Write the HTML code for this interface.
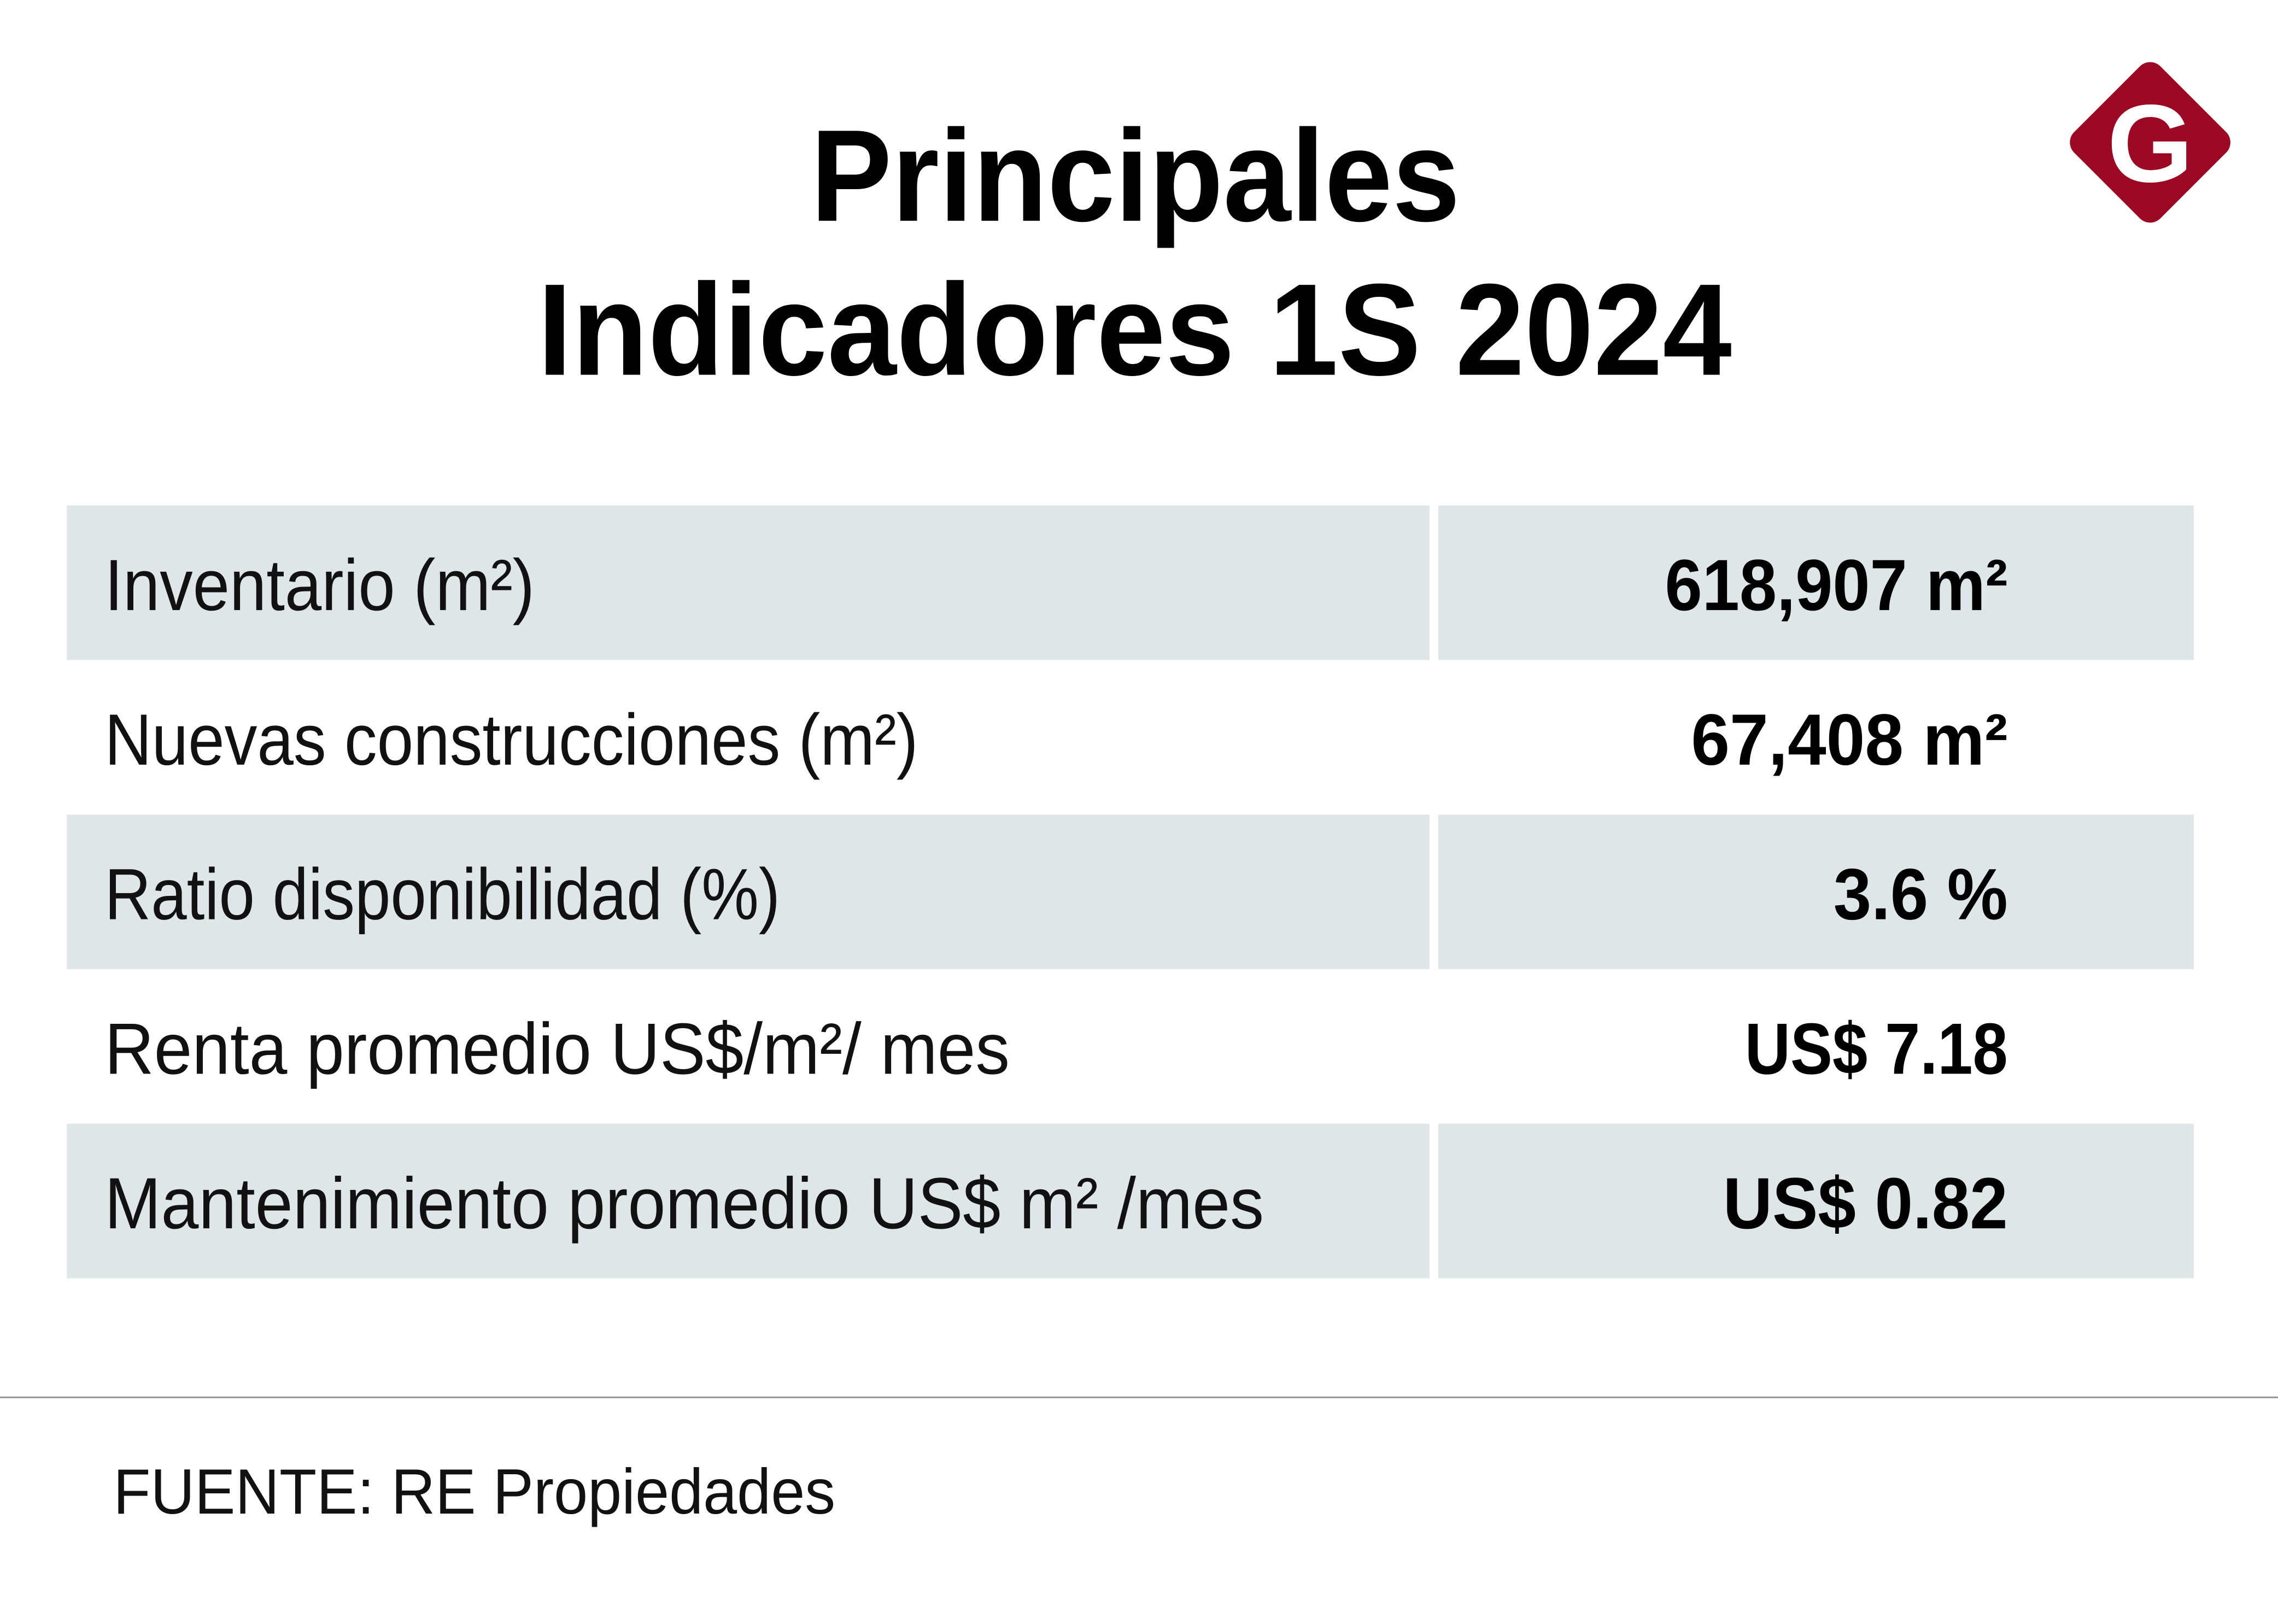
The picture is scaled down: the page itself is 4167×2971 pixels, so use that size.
<!DOCTYPE html>
<html><head><meta charset="utf-8">
<style>
html,body{margin:0;padding:0;background:#fff;}
svg{display:block;}
text{font-family:"Liberation Sans Narrow","Liberation Sans",sans-serif;}
</style></head>
<body>
<svg id="chart" width="4167" height="2971" viewBox="0 0 1568 1118" preserveAspectRatio="none" xmlns="http://www.w3.org/2000/svg">
  <rect x="0" y="0" width="1568" height="1118" fill="#ffffff"/>
  <text x="558" y="152" font-size="90" font-weight="bold" fill="#000" textLength="447" lengthAdjust="spacingAndGlyphs">Principales</text>
  <text x="370" y="258" font-size="90" font-weight="bold" fill="#000" textLength="822" lengthAdjust="spacingAndGlyphs">Indicadores 1S 2024</text>
  <g>
    <rect x="1438" y="56" width="84" height="84" rx="10" fill="#9b0a22" transform="rotate(45 1480 98)"/>
    <text x="1480" y="125" font-family="Liberation Serif, serif" font-size="76" font-weight="bold" fill="#fff" text-anchor="middle">G</text>
  </g>
  <g id="rows"></g>
  <line x1="0" y1="962" x2="1568" y2="962" stroke="#9a9a9a" stroke-width="1.2"/>
  <text x="78" y="1042" font-size="44" fill="#111" textLength="497" lengthAdjust="spacingAndGlyphs">FUENTE: RE Propiedades</text>
</svg>
<script>
const labels = ["Inventario (m²)","Nuevas construcciones (m²)","Ratio disponibilidad (%)","Renta promedio US$/m²/ mes","Mantenimiento promedio US$ m² /mes"];
const values = ["618,907 m²","67,408 m²","3.6 %","US$ 7.18","US$ 0.82"];
const labelWidths = [296,560,465,623,798];
const valueWidths = [236,218,120,181,196];
const NS = "http://www.w3.org/2000/svg";
const g = document.getElementById('rows');
const top0 = 348, rowH = 106.4;
labels.forEach((lab, i) => {
  const y = top0 + i * rowH;
  if (i % 2 === 0) {
    const r1 = document.createElementNS(NS, 'rect');
    r1.setAttribute('x', 46); r1.setAttribute('y', y); r1.setAttribute('width', 938); r1.setAttribute('height', rowH);
    r1.setAttribute('fill', '#dfe6e9');
    
    
    g.appendChild(r1);
    const r2 = document.createElementNS(NS, 'rect');
    r2.setAttribute('x', 990); r2.setAttribute('y', y); r2.setAttribute('width', 520); r2.setAttribute('height', rowH);
    r2.setAttribute('fill', '#dfe6e9');
    
    
    g.appendChild(r2);
  }
  const base = y + 72;
  const t1 = document.createElementNS(NS, 'text');
  t1.setAttribute('x', 72); t1.setAttribute('y', base);
  t1.setAttribute('font-size', 50); t1.setAttribute('fill', '#111');
  t1.setAttribute('textLength', labelWidths[i]); t1.setAttribute('lengthAdjust', 'spacingAndGlyphs');
  t1.textContent = lab;
  
  
  g.appendChild(t1);
  const t2 = document.createElementNS(NS, 'text');
  t2.setAttribute('x', 1382 - valueWidths[i]); t2.setAttribute('y', base);
  t2.setAttribute('font-size', 50); t2.setAttribute('font-weight', 'bold'); t2.setAttribute('fill', '#000');
  t2.setAttribute('textLength', valueWidths[i]); t2.setAttribute('lengthAdjust', 'spacingAndGlyphs');
  t2.textContent = values[i];
  
  
  g.appendChild(t2);
});
</script>
</body></html>
